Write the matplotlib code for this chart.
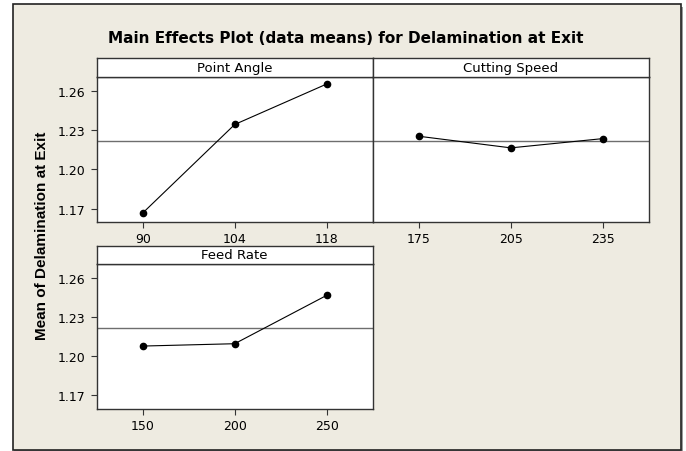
import matplotlib
matplotlib.use("agg")
import matplotlib.pyplot as plt
from matplotlib.patches import Rectangle
import numpy as np

# data
factors = ["Point Angle", "Cutting Speed", "Feed Rate"]
point_angle_levels = ["90", "104", "118"]
point_angle_means = [1.1666, 1.2344, 1.2654]
cutting_speed_levels = ["175", "205", "235"]
cutting_speed_means = [1.2254, 1.2165, 1.2236]
feed_rate_levels = ["150", "200", "250"]
feed_rate_means = [1.2079, 1.2097, 1.2469]
grand_mean = 1.2221
y_ticks = [1.17, 1.20, 1.23, 1.26]

W, H = 686, 452
fig = plt.figure(figsize=(W / 100, H / 100), dpi=100)
fig.patch.set_facecolor("white")

# beige outer frame with a little shadow
fig.patches.append(Rectangle((14.5 / W, 1 - 452.5 / H), 668 / W, 445 / H,
                             transform=fig.transFigure, facecolor="#9a9a9a",
                             edgecolor="none", zorder=0))
fig.patches.append(Rectangle((12.7 / W, 1 - 450.7 / H), 668 / W, 445.4 / H,
                             transform=fig.transFigure, facecolor="#eeebe1",
                             edgecolor="#222222", linewidth=1.2, zorder=1))

fig.text(345.5 / W, 1 - 38.5 / H,
         "Main Effects Plot (data means) for Delamination at Exit",
         ha="center", va="center", fontsize=11, fontweight="bold",
         family="DejaVu Sans")
fig.text(42.5 / W, 1 - 236 / H, "Mean of Delamination at Exit",
         rotation=90, ha="center", va="center", fontsize=11,
         fontweight="bold", family="Liberation Sans")

# pixel boxes (left, top, right, bottom) for each plot area
boxes = [(96.7, 77.7, 372.7, 223.3),
         (372.7, 77.7, 649.0, 223.3),
         (96.7, 265.0, 372.7, 410.0)]
levels = [point_angle_levels, cutting_speed_levels, feed_rate_levels]
means = [point_angle_means, cutting_speed_means, feed_rate_means]
header_h = 18.3

for i, (x0, y0, x1, y1) in enumerate(boxes):
    ax = fig.add_axes([x0 / W, 1 - y1 / H, (x1 - x0) / W, (y1 - y0) / H])
    ax.set_facecolor("white")
    ax.set_zorder(2)
    pos = np.arange(len(levels[i]))
    ax.axhline(grand_mean, color="#6e6e6e", linewidth=1.0, zorder=1)
    ax.plot(pos, means[i], color="black", linewidth=0.8, marker="o",
            markersize=4.5, zorder=3)
    ax.set_xlim(-0.5, len(pos) - 0.5)
    ax.set_ylim(1.1595, 1.271)
    ax.set_xticks(pos)
    ax.set_xticklabels(levels[i])
    ax.set_yticks(y_ticks)
    ax.set_yticklabels(["%.2f" % v for v in y_ticks])
    for s in ax.spines.values():
        s.set_color("#333333")
        s.set_linewidth(1.0)
    ax.tick_params(axis="x", direction="out", length=4, width=0.8,
                   color="#333333", labelsize=9, pad=3)
    ax.tick_params(axis="y", direction="out", length=4, width=0.8,
                   color="#333333", labelsize=9, pad=4)
    if i == 1:
        ax.tick_params(axis="y", left=False, labelleft=False)

    # header strip with the factor name
    hx = fig.add_axes([x0 / W, 1 - y0 / H, (x1 - x0) / W, header_h / H])
    hx.set_facecolor("white")
    hx.set_zorder(2)
    hx.set_xticks([])
    hx.set_yticks([])
    for s in hx.spines.values():
        s.set_color("#333333")
        s.set_linewidth(1.0)
    hx.text(0.5, 0.5, factors[i], ha="center", va="center", fontsize=9.5,
            transform=hx.transAxes)

fig.savefig("out.png", dpi=100)
